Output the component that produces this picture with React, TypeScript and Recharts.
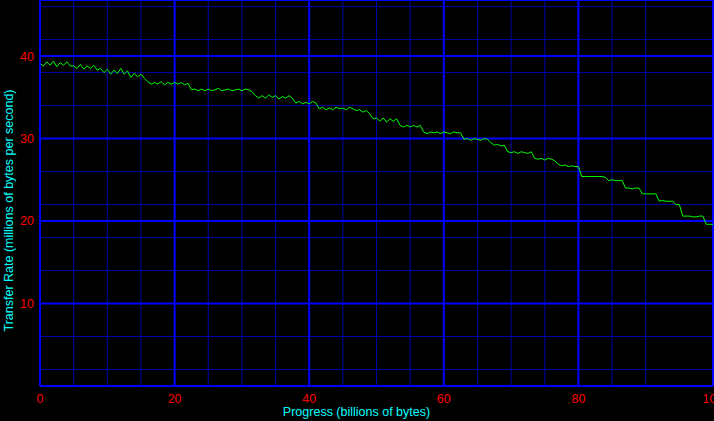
import { CartesianGrid, Line, LineChart, XAxis, YAxis } from "recharts";

const transferRate = [
  39.1, 38.8, 39.3, 38.9, 39.4, 38.7, 39.2, 38.9, 39.3, 38.8,
  38.8, 38.5, 39.0, 38.4, 38.8, 38.5, 38.9, 38.3, 38.5, 38.0,
  38.4, 37.8, 38.3, 37.9, 38.5, 37.8, 38.2, 37.4, 37.9, 37.5,
  37.8, 37.3, 36.9, 36.6, 36.8, 36.6, 36.9, 36.5, 36.8, 36.6,
  36.8, 36.6, 36.8, 36.5, 36.7, 35.9, 36.0, 35.8, 36.0, 35.8,
  36.0, 35.8, 35.9, 36.1, 35.8, 35.9, 36.0, 35.8, 35.9, 36.0,
  35.8, 36.0, 35.9, 35.7, 35.2, 34.9, 35.2, 34.9, 35.3, 35.0,
  35.2, 34.8, 35.1, 34.9, 35.2, 34.9, 34.3, 34.5, 34.2, 34.4,
  34.2, 34.5, 34.3, 33.6, 33.8, 33.5, 33.7, 33.5, 33.8, 33.6,
  33.7, 33.5, 33.8, 33.6, 33.4, 33.5, 33.2, 33.4, 33.0, 32.4,
  32.5, 32.1, 32.5, 32.0, 32.4, 32.1, 32.4, 31.6, 31.4, 31.6,
  31.4, 31.6, 31.4, 31.6, 30.8, 30.6, 30.8, 30.7, 30.8, 30.6,
  30.8, 30.7, 30.6, 30.8, 30.7, 30.7, 29.9, 30.0, 29.8, 30.0,
  29.9, 29.8, 30.0, 29.9, 29.5, 29.2, 29.3, 29.1, 29.2, 28.4,
  28.3, 28.4, 28.2, 28.4, 28.3, 28.2, 28.4, 27.6, 27.5, 27.6,
  27.4, 27.6, 27.5, 27.3, 26.9, 26.7, 26.8, 26.6, 26.7, 26.6,
  26.6, 25.4, 25.4, 25.4, 25.4, 25.4, 25.4, 25.4, 25.3, 24.9,
  25.0, 24.9, 24.9, 24.9, 24.0, 24.0, 23.9, 24.0, 24.0, 23.3,
  23.3, 23.3, 23.3, 23.3, 22.4, 22.5, 22.4, 22.4, 22.4, 22.0,
  22.0, 20.6, 20.6, 20.6, 20.5, 20.5, 20.6, 20.6, 19.6, 19.6,
  19.6,
];
const sampleStep = 0.5;

const majorXTicks = [0, 20, 40, 60, 80, 100];
const minorXTicks = [0, 5, 10, 15, 20, 25, 30, 35, 40, 45, 50, 55, 60, 65, 70, 75, 80, 85, 90, 95, 100];
const yTickLabels = [10, 20, 30, 40];
const minorYTicks = [0, 2, 4, 6, 8, 10, 12, 14, 16, 18, 20, 22, 24, 26, 28, 30, 32, 34, 36, 38, 40, 42, 44, 46];

const rows = transferRate.map((rate, i) => ({ progress: i * sampleStep, rate }));

const font = '"Liberation Sans", Arial, sans-serif';
const tickStyle = { fill: "#ff0000", fontSize: 12.5, fontFamily: font };
const labelStyle = { fill: "#00ffff", fontSize: 12.5, fontFamily: font };
const yDomain = [0, 46.8];

export default function App() {
  return (
    <div style={{ position: "absolute", left: 0, top: 0, width: 714, height: 421, background: "#000" }}>
      <LineChart width={714} height={421} data={rows} margin={{ top: 0, right: 1, bottom: 0, left: 0 }}>
        <XAxis xAxisId="minor" type="number" dataKey="progress" domain={[0, 100]} ticks={minorXTicks} allowDataOverflow hide />
        <YAxis yAxisId="minor" type="number" domain={yDomain} ticks={minorYTicks} allowDataOverflow hide />
        <CartesianGrid xAxisId="minor" yAxisId="minor" stroke="#0000a8" strokeWidth={1} />
        <CartesianGrid stroke="#0000ff" strokeWidth={2} />
        <XAxis
          type="number"
          dataKey="progress"
          domain={[0, 100]}
          ticks={majorXTicks}
          interval={0}
          height={35}
          axisLine={{ stroke: "#0000ff", strokeWidth: 2 }}
          tickLine={false}
          tick={tickStyle}
          label={{ value: "Progress (billions of bytes)", position: "center", dx: -20, dy: 8.5, ...labelStyle }}
        />
        <YAxis
          type="number"
          domain={yDomain}
          ticks={yTickLabels}
          interval={0}
          width={40}
          allowDataOverflow
          axisLine={{ stroke: "#0000ff", strokeWidth: 2 }}
          tickLine={false}
          tickMargin={0}
          tick={tickStyle}
          label={{
            value: "Transfer Rate (millions of bytes per second)",
            position: "center",
            angle: -90,
            dx: -11,
            dy: 17.5,
            ...labelStyle,
          }}
        />
        <Line
          type="linear"
          dataKey="rate"
          stroke="#00ff00"
          strokeWidth={1}
          dot={false}
          isAnimationActive={false}
        />
      </LineChart>
    </div>
  );
}
